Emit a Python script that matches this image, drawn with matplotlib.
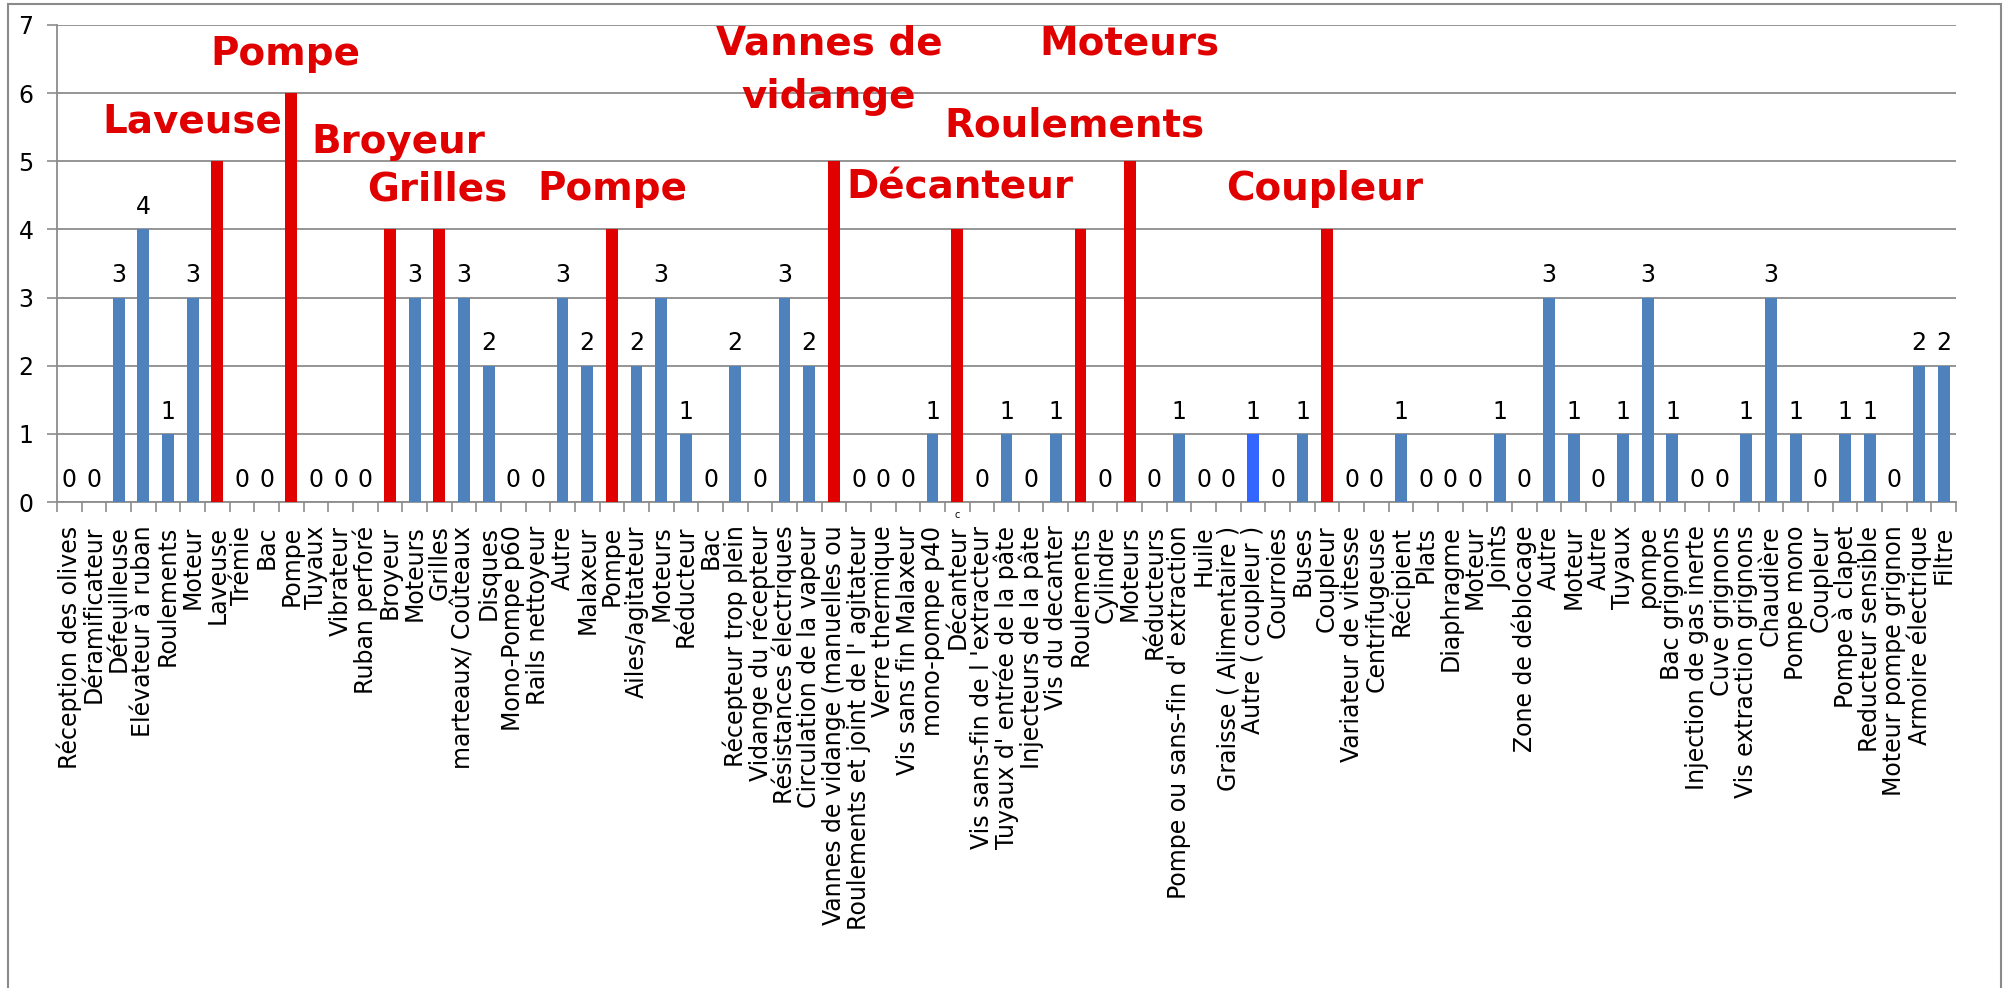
import matplotlib
matplotlib.use("Agg")
from matplotlib import pyplot as plt
from matplotlib.patches import Rectangle
import numpy as np

# categories (x axis) and counts
categories = [
    "Réception des olives", "Déramificateur", "Défeuilleuse", "Elévateur à ruban",
    "Roulements", "Moteur", "Laveuse", "Trémie", "Bac", "Pompe", "Tuyaux",
    "Vibrateur", "Ruban perforé", "Broyeur", "Moteurs", "Grilles",
    "marteaux/ Coûteaux", "Disques", "Mono-Pompe p60", "Rails nettoyeur", "Autre",
    "Malaxeur", "Pompe", "Ailes/agitateur", "Moteurs", "Réducteur", "Bac",
    "Récepteur trop plein", "Vidange du récepteur", "Résistances électriques",
    "Circulation de la vapeur", "Vannes de vidange (manuelles ou",
    "Roulements et joint de l' agitateur", "Verre thermique", "Vis sans fin Malaxeur",
    "mono-pompe p40", "Décanteur", "Vis sans-fin de l 'extracteur",
    "Tuyaux d' entrée de la pâte", "Injecteurs de la pâte", "Vis du decanter",
    "Roulements", "Cylindre", "Moteurs", "Réducteurs",
    "Pompe ou sans-fin d' extraction", "Huile", "Graisse ( Alimentaire )",
    "Autre ( coupleur )", "Courroies", "Buses", "Coupleur", "Variateur de vitesse",
    "Centrifugeuse", "Récipient", "Plats", "Diaphragme", "Moteur", "Joints",
    "Zone de déblocage", "Autre", "Moteur", "Autre", "Tuyaux", "pompe",
    "Bac grignons", "Injection de gas inerte", "Cuve grignons",
    "Vis extraction grignons", "Chaudière", "Pompe mono", "Coupleur",
    "Pompe à clapet", "Reducteur sensible", "Moteur pompe grignon",
    "Armoire électrique", "Filtre",
]
values = [
    0, 0, 3, 4, 1, 3, 5, 0, 0, 6, 0, 0, 0, 4, 3, 4, 3, 2, 0, 0, 3, 2, 4, 2, 3, 1,
    0, 2, 0, 3, 2, 5, 0, 0, 0, 1, 4, 0, 1, 0, 1, 4, 0, 5, 0, 1, 0, 0, 1, 0, 1, 4,
    0, 0, 1, 0, 0, 0, 1, 0, 3, 1, 0, 1, 3, 1, 0, 0, 1, 3, 1, 0, 1, 1, 0, 2, 2,
]
# index of the critical (red) items and their big labels
critical = [6, 9, 13, 15, 22, 31, 36, 41, 43, 51]
critical_names = ["Laveuse", "Pompe", "Broyeur", "Grilles", "Pompe",
                  "Vannes de\nvidange", "Décanteur", "Roulements", "Moteurs", "Coupleur"]
special = 48  # Autre ( coupleur )

# layout of the big red labels: (x shift in categories, baseline y)
label_pos = {
    6: (-1.0, 5.42), 9: (-0.25, 6.41), 13: (0.33, 5.12), 15: (-0.1, 4.43),
    22: (0.0, 4.43), 31: (-0.2, 6.56), 36: (0.12, 4.45), 41: (-0.26, 5.36),
    43: (0.0, 6.56), 51: (-0.1, 4.43),
}

BLUE = "#4F81BD"
RED = "#E00000"
BRIGHT = "#3366FF"
GRID = "#8C8C8C"

W, H = 2009, 988
fig = plt.figure(figsize=(W / 100, H / 100), dpi=100)
ax = fig.add_axes([57 / W, 1 - 502 / H, (1956 - 57) / W, (502 - 25) / H])

x = np.arange(len(categories))
colors = [BLUE] * len(values)
for i in critical:
    colors[i] = RED
colors[special] = BRIGHT
ax.bar(x, values, width=0.48, color=colors, zorder=3)

ax.set_xlim(-0.5, len(categories) - 0.5)
ax.set_ylim(0, 7)
ax.set_yticks(range(8))
ax.yaxis.grid(True, color=GRID, lw=1.3, zorder=0)
ax.tick_params(axis="y", length=7, color=GRID, width=1.2, pad=10, labelsize=17)

# category boundaries as major ticks, labels on minor ticks
ax.set_xticks(np.arange(-0.5, len(categories) + 0.5, 1))
ax.set_xticklabels([])
ax.set_xticks(x, minor=True)
ax.set_xticklabels(categories, minor=True, rotation=90, fontsize=17)
ax.tick_params(axis="x", which="major", length=7, color=GRID, width=1.2)
ax.tick_params(axis="x", which="minor", length=0, pad=17)

for s in ["top", "right"]:
    ax.spines[s].set_visible(False)
for s in ["left", "bottom"]:
    ax.spines[s].set_color(GRID)
    ax.spines[s].set_linewidth(1.3)

# value labels on non-critical bars
for i, v in enumerate(values):
    if i in critical:
        continue
    ax.annotate(str(v), (i, v), xytext=(0, 11), textcoords="offset points",
                ha="center", va="baseline", fontsize=17)

# big red labels
for i, name in zip(critical, critical_names):
    dx, yb = label_pos[i]
    lines = name.split("\n")
    for k, line in enumerate(lines):
        ax.text(i + dx, yb - k * 0.78, line, ha="center", va="baseline",
                color=RED, fontsize=28, fontweight="bold", zorder=4)

# stray small mark under Décanteur
ax.annotate("c", (36, 0), xytext=(0, -9), textcoords="offset points",
            ha="center", va="center", fontsize=7)

fig.add_artist(Rectangle((8 / W, -0.05), (2001 - 8) / W, 1.05 - 4 / H,
                         transform=fig.transFigure, fill=False,
                         edgecolor="#8A8A8A", lw=1.5, clip_on=False))

fig.savefig("out.png", dpi=100)
